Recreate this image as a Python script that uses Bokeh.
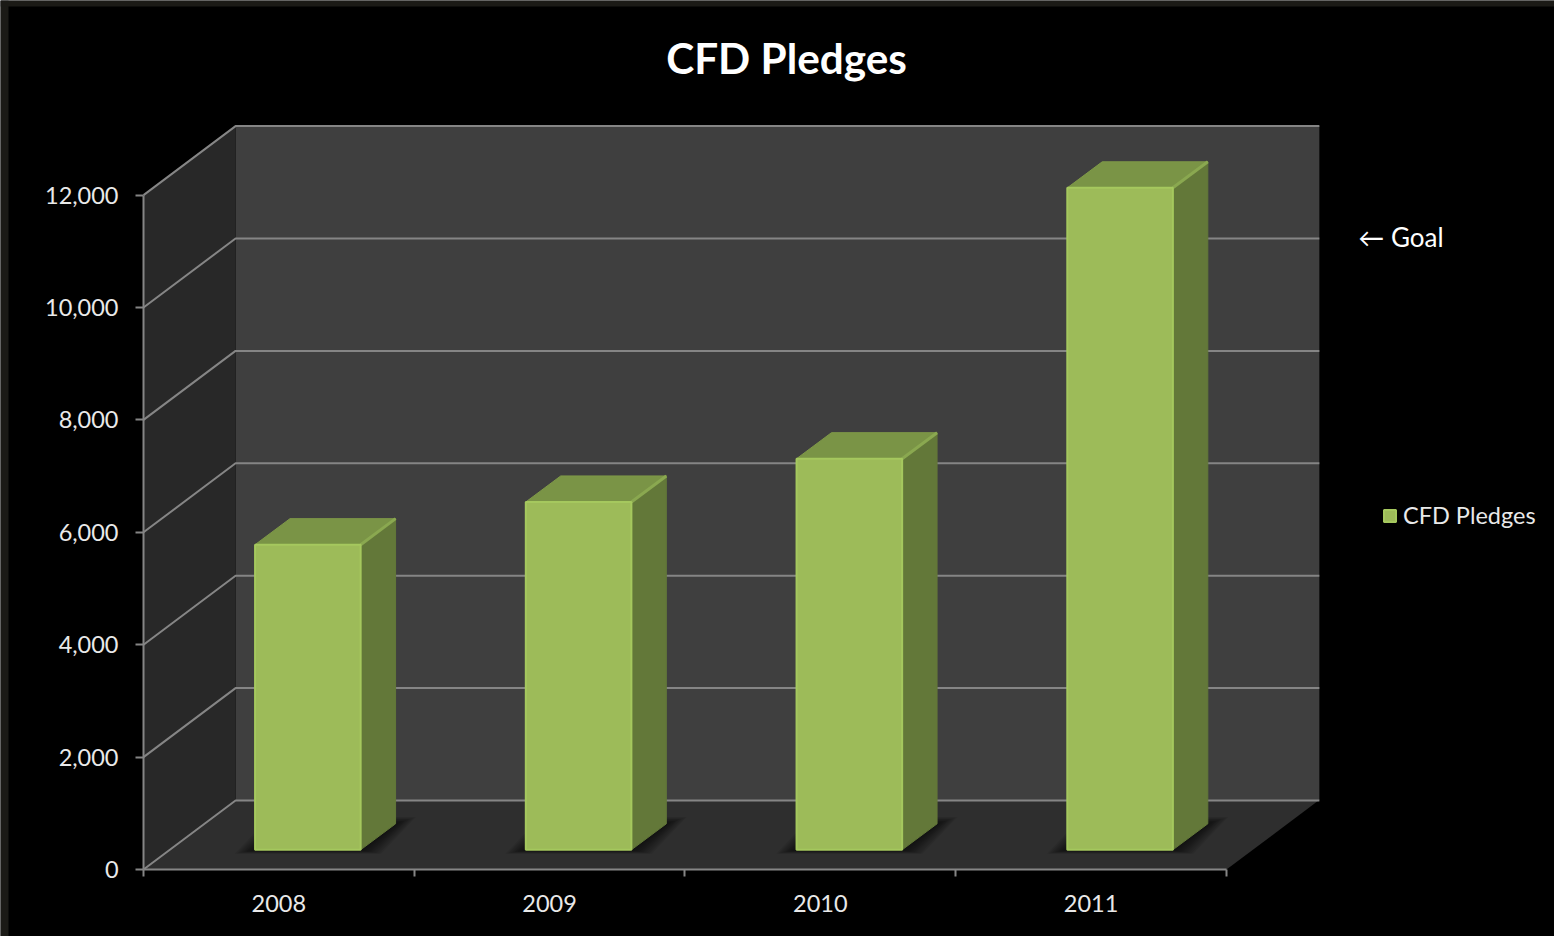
from bokeh.embed import file_html
from bokeh.models import (FixedTicker, Label, Legend, LegendItem,
                          LinearAxis, NumeralTickFormatter, Range1d)
from bokeh.plotting import figure
from bokeh.resources import INLINE

# Chart data
years = ["2008", "2009", "2010", "2011"]
pledges = [5430, 6190, 6960, 11780]
value_ticks = [0, 2000, 4000, 6000, 8000, 10000, 12000]
series_name = "CFD Pledges"
chart_title = "CFD Pledges"
goal_note = "← Goal"

# The plot area spans the whole page; x is in category slots, y in pledge values
X_START, X_END = -0.5282, 5.2115
Y_START, Y_END = -1192, 15463
PX_X = (X_END - X_START) / 1554   # one page pixel along x
PX_Y = (Y_END - Y_START) / 936    # one page pixel along y

# Oblique projection of the box: how far the back wall is shifted from the front plane
DEPTH_X = 0.34
DEPTH_Y = 1228
WALL_RIGHT = 4.343
# Bar geometry inside a category slot
BAR_OFFSET = 0.412
BAR_WIDTH = 0.39
BAR_BASE = 350
BAR_DEPTH_X = 0.129
BAR_DEPTH_Y = 463

FONT = "Lato"
TEXT = "#e9e9e9"
RULE = "#858585"
EDGE = "#1b1a16"

p = figure(width=1554, height=936, output_backend="svg", toolbar_location=None,
           x_range=Range1d(X_START, X_END), y_range=Range1d(Y_START, Y_END),
           min_border=0, x_axis_type=None, y_axis_type=None,
           background_fill_color="#000000", border_fill_color="#000000")
p.grid.visible = False
p.outline_line_color = None

top = max(value_ticks)
n = len(years)

# Dark slide edge along the left and top of the page
p.quad(left=X_START, right=X_START + 8 * PX_X, bottom=Y_START, top=Y_END,
       fill_color=EDGE, line_color=None)
p.quad(left=X_START, right=X_END, bottom=Y_END - 6 * PX_Y, top=Y_END,
       fill_color=EDGE, line_color=None)

# Walls and floor of the box
p.patch([DEPTH_X, WALL_RIGHT, WALL_RIGHT, DEPTH_X], [DEPTH_Y, DEPTH_Y, top + DEPTH_Y, top + DEPTH_Y],
        fill_color="#3f3f3f", line_color=None)
p.patch([0, DEPTH_X, DEPTH_X, 0], [0, DEPTH_Y, top + DEPTH_Y, top],
        fill_color="#282828", line_color=None)
p.patch([0, n, n + DEPTH_X, DEPTH_X], [0, 0, DEPTH_Y, DEPTH_Y],
        fill_color="#2e2e2e", line_color=None)

# Gridlines run along the side wall and across the back wall
p.multi_line([[0, DEPTH_X, WALL_RIGHT] for _ in value_ticks],
             [[v, v + DEPTH_Y, v + DEPTH_Y] for v in value_ticks],
             line_color=RULE, line_width=2)

# Soft contact shadow under each bar, built up from nested translucent footprints
for i in range(n):
    left = i + BAR_OFFSET
    right = left + BAR_WIDTH
    for step in range(1, 11):
        dx = 0.0075 * step
        low = 7 * step
        high = 12 * step
        p.patch([left - dx, right + dx, right + BAR_DEPTH_X + dx, left + BAR_DEPTH_X - dx],
                [BAR_BASE - low, BAR_BASE - low, BAR_BASE + BAR_DEPTH_Y + high, BAR_BASE + BAR_DEPTH_Y + high],
                fill_color="#000000", fill_alpha=0.075, line_color=None)

# Bars: side, top and front faces
lefts = [i + BAR_OFFSET for i in range(n)]
rights = [x + BAR_WIDTH for x in lefts]
tops = [BAR_BASE + v for v in pledges]

p.patches([[r, r + BAR_DEPTH_X, r + BAR_DEPTH_X, r] for r in rights],
          [[BAR_BASE, BAR_BASE + BAR_DEPTH_Y, t + BAR_DEPTH_Y, t] for t in tops],
          fill_color="#637839", line_color="#637839", line_width=1)
p.patches([[l, r, r + BAR_DEPTH_X, l + BAR_DEPTH_X] for l, r in zip(lefts, rights)],
          [[t, t, t + BAR_DEPTH_Y, t + BAR_DEPTH_Y] for t in tops],
          fill_color="#7a9446", line_color="#7f9a48", line_width=1)
# Bevel highlight where the top and side faces meet
p.multi_line([[r, r + BAR_DEPTH_X] for r in rights],
             [[t, t + BAR_DEPTH_Y] for t in tops],
             line_color="#8aa850", line_width=3)
front = p.patches([[l, r, r, l] for l, r in zip(lefts, rights)],
                  [[BAR_BASE, BAR_BASE, t, t] for t in tops],
                  fill_color="#9dbb59", line_color="#a5c85e", line_width=2)

# Value axis on the front edge of the side wall
y_axis = LinearAxis(ticker=FixedTicker(ticks=value_ticks), bounds=(0, top), fixed_location=0,
                    formatter=NumeralTickFormatter(format="0,0"))
y_axis.axis_line_color = RULE
y_axis.axis_line_width = 2
y_axis.major_tick_line_color = RULE
y_axis.major_tick_line_width = 2
y_axis.major_tick_out = 8
y_axis.major_tick_in = 0
y_axis.minor_tick_line_color = None
y_axis.major_label_standoff = 17
y_axis.major_label_text_font = FONT
y_axis.major_label_text_font_size = "23.5px"
y_axis.major_label_text_color = TEXT
p.add_layout(y_axis, "left")

# Category axis: ticks mark the slot edges, labels sit at the slot centres
slot_edges = list(range(n + 1))
slot_centres = [i + 0.5 for i in range(n)]
x_axis = LinearAxis(ticker=FixedTicker(ticks=slot_centres, minor_ticks=slot_edges), bounds=(0, n),
                    fixed_location=0, major_label_overrides=dict(zip(slot_centres, years)))
x_axis.axis_line_color = RULE
x_axis.axis_line_width = 2
x_axis.major_tick_line_color = None
x_axis.major_tick_out = 0
x_axis.major_tick_in = 0
x_axis.minor_tick_line_color = RULE
x_axis.minor_tick_line_width = 2
x_axis.minor_tick_out = 7
x_axis.minor_tick_in = 0
x_axis.major_label_standoff = 18
x_axis.major_label_text_font = FONT
x_axis.major_label_text_font_size = "23.5px"
x_axis.major_label_text_color = TEXT
p.add_layout(x_axis, "below")

# Title and goal note, which sits level with the 10,000 line on the back wall
p.add_layout(Label(x=2.375, y=14450, text=chart_title,
                   text_font=FONT, text_font_style="bold", text_font_size="42.3px",
                   text_color="#ffffff", text_align="center", text_baseline="middle"))
p.add_layout(Label(x=4.487, y=10020 + DEPTH_Y, text=goal_note,
                   text_font=FONT, text_font_size="26px", text_color="#ffffff",
                   text_align="left", text_baseline="middle"))

legend = Legend(items=[LegendItem(label=series_name, renderers=[front])],
                location=(1382, 407), background_fill_alpha=0, border_line_color=None,
                glyph_width=15, glyph_height=15, label_text_font=FONT,
                label_text_font_size="23.5px", label_text_color=TEXT,
                label_standoff=6, padding=0, margin=0)
p.add_layout(legend)

open("out.html", "w").write(file_html(p, INLINE))
